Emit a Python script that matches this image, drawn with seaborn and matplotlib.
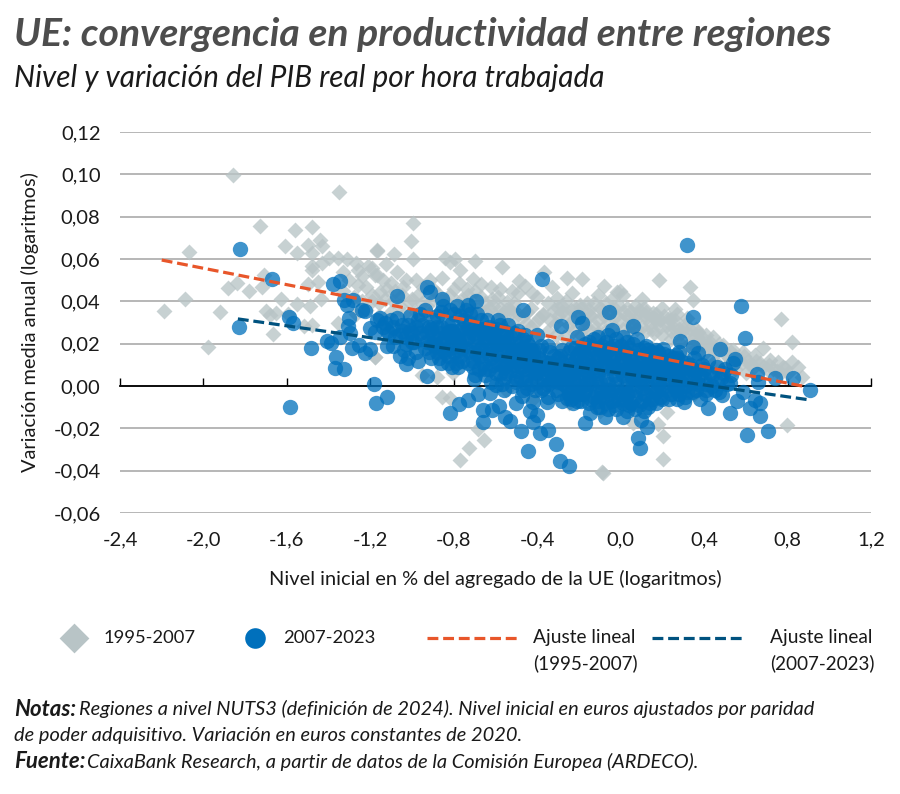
import pandas as pd
import seaborn as sns
import matplotlib.pyplot as plt

# Values (x = initial level, y = mean annual change)
gray_sparse = [
    (-1.86, .0998), (-1.35, .0917), (-1.73, .0757), (-1.56, .0738), (-1.48, .0752), (-1.44, .069), (-1.43, .066),
    (-1.61, .066), (-1.55, .063), (-1.50, .0667), (-1.48, .063), (-2.07, .0635), (-1.17, .0643), (-1.40, .0605),
    (-1.355, .0605), (-1.31, .06), (-1.43, .058), (-1.48, .0567), (-1.48, .055), (-1.27, .058), (-1.26, .055),
    (-1.21, .0567), (-1.18, .0525), (-1.33, .054), (-1.71, .0525), (-1.84, .0487), (-1.88, .0463), (-1.72, .0468),
    (-1.78, .045), (-1.50, .048), (-1.45, .049), (-1.26, .0478), (-1.33, .045), (-2.09, .041), (-1.63, .041),
    (-1.55, .0387), (-1.435, .041), (-1.49, .0378), (-1.19, .043), (-2.19, .0354), (-1.92, .035), (-1.70, .0354),
    (-1.65, .0345), (-1.68, .0335), (-1.595, .034), (-1.48, .029), (-1.52, .0283), (-1.665, .0246), (-1.98, .0184),
    (-1.355, .03), (-1.18, .0137), (-.995, .077), (-1.005, .0686), (-1.167, .0638), (-1.087, .0624), (-1.125, .0577),
    (-.995, .06), (-1.07, .054), (-1.19, .0558), (-1.167, .0525), (-.98, .05), (-1.10, .0487), (-1.153, .0444),
    (-1.043, .0468), (-.84, .0605), (-.82, .0586), (-.794, .06), (-.698, .059), (-.77, .055), (-.568, .056),
    (-.855, .051), (-.707, .0506), (-.775, .0487), (-.737, .0459), (-.698, .045), (-.367, .054), (-.487, .0497),
    (-.458, .0473), (-.492, .044), (-.425, .044), (-.329, .0468), (-.257, .051), (-.185, .0506), (-.233, .044),
    (-.08, .0473), (-.017, .0444), (-.108, .043), (-.305, .0416), (-.617, .041), (-.545, .0397), (-.30, .0369),
    (-.372, .0336), (-.147, .0336), (-.914, .05), (-.947, .0468), (-.449, .035), (-.52, .035), (-.578, .0369),
    (-.195, .0383), (-.856, -.0052), (-.82, -.0057), (-.803, .0061), (-.88, .0043), (-.95, .0052), (-1.177, .0137),
    (-.683, -.0203), (-.655, -.0255), (-.727, -.0293), (-.77, -.035), (-.09, -.0407), (-.003, .045), (.012, .043),
    (.184, .05), (.333, .047), (.348, .0407), (.26, .0364), (.03, .033), (.156, .0345), (.117, .0336), (.237, .031),
    (.77, .0317), (.442, .0232), (.82, .0208), (.683, .018), (.49, .0194), (.372, .0255), (.428, .018), (.539, .017),
    (.587, .0161), (.644, .0147), (.716, .0123), (.755, .0113), (.82, .0113), (.85, .009), (.788, .0085), (.87, .0043),
    (.223, -.0123), (.06, -.0175), (.18, -.018), (.203, -.0236), (.203, -.0345), (-.085, -.041), (.798, -.0184),
]
gray_band = [
    (-1.28, .042), (-1.22, .047), (-1.16, .039), (-1.12, .046), (-1.09, .04), (-1.05, .043), (-1.01, .039), (-.97, .043),
    (-.93, .038), (-.88, .044), (-.84, .04), (-.8, .046), (-.76, .041), (-.72, .039), (-.67, .042), (-.63, .037),
    (-.59, .042), (-.55, .036), (-.51, .039), (-.47, .033), (-.43, .037), (-.39, .032), (-.35, .039), (-.31, .03),
    (-.28, .035), (-.25, .029), (-.22, .037), (-.18, .031), (-.15, .036), (-.12, .028), (-.09, .036), (-.06, .03),
    (-.03, .037), (0.0, .031), (.03, .037), (.05, .029), (.08, .034), (.1, .028), (.12, .032), (.15, .027), (.17, .031),
    (.19, .028), (.21, .033), (.24, .026), (.26, .031), (.29, .025), (.31, .029), (.33, .024), (.36, .027), (.39, .021),
    (.41, .024), (.44, .018), (.47, .02), (.5, .015), (.53, .016), (.56, .012), (.59, .014), (.62, .01), (.65, .012),
    (.68, .009), (.71, .01), (.75, .007), (.78, .009), (.6, .006), (.55, .008), (.5, .009), (.45, .012), (.4, .015),
    (.36, .018), (.32, .019), (.28, .021), (.24, .022), (.2, .024), (.16, .025), (.12, .026), (.08, .027), (.04, .026),
    (0.01, .027), (-.03, .028), (-.07, .026), (-.11, .025), (-.15, .027), (-.19, .024), (-.23, .026), (-.27, .023),
    (-.31, .024), (-.35, .026), (-.39, .024), (-.43, .028), (-.47, .025), (-.51, .03), (-.56, .031), (-.6, .033),
    (-.65, .035), (-.7, .034), (-.75, .036), (-.8, .035), (-.86, .036), (-.92, .034), (-.98, .035), (-1.04, .034),
    (-1.1, .035), (-1.16, .033), (-1.22, .036), (-1.27, .034), (-.62, .047), (-.52, .045), (-.4, .042), (-.32, .036),
    (-.13, .039), (-.04, .041), (.07, .038), (.2, .037), (.1, .041), (-.26, .04), (-.62, .028), (-.45, .02), (-.3, .018),
    (-.15, .02), (0.0, .02), (.15, .018), (.3, .014), (.45, .008), (-.55, -.002), (-.42, -.006), (-.25, -.008),
    (-.1, -.012), (.05, -.01), (.2, -.006), (.35, -.004),
]
gray_core = [
    (-.3, .033), (-.26, .034), (-.23, .031), (-.2, .034), (-.17, .028), (-.14, .033), (-.11, .031), (-.08, .033),
    (-.05, .034), (-.02, .033), (.01, .035), (.04, .032), (.07, .031), (.09, .036), (.12, .035), (.14, .03),
    (.17, .034), (.19, .031), (.22, .029), (.25, .028), (.28, .027), (.3, .027), (.33, .027), (.35, .023), (.38, .024),
    (.4, .019), (.43, .021), (.46, .016), (.49, .017), (.52, .013), (.55, .014), (.58, .011), (.61, .012), (.64, .009),
    (.67, .011), (.7, .008), (.73, .008), (.77, .006), (.8, .006), (-.41, .03), (-.37, .034), (-.34, .031), (-.45, .03),
    (-.49, .034), (-.53, .036), (-.57, .034), (-.61, .038), (-.65, .039), (-.69, .037), (-.73, .043), (-.78, .039),
    (-.82, .043), (-.86, .04), (-.9, .041), (-.95, .039), (-1.0, .041), (-1.06, .038), (-1.13, .041), (-1.19, .04),
    (-1.24, .04), (-.28, .038), (-.24, .036), (-.19, .037), (-.16, .039), (-.1, .037), (-.07, .039), (-.01, .038),
    (.05, .035), (.11, .037), (.16, .032), (.23, .032), (.27, .034), (.32, .032), (.37, .021), (.42, .02),
    (-1.3, .05), (-1.24, .052), (-1.14, .05), (-1.08, .045), (-1.03, .05), (-.9, .046), (-.67, .048), (-.58, .046),
]
blue_sparse = [
    (-1.825, .0648), (-1.67, .0506), (-1.83, .0279), (-1.59, .0326), (-1.57, .0298), (-1.485, .018), (-1.41, .0213),
    (-1.39, .0203), (-1.345, .0232), (-1.365, .0137), (-1.37, .0085), (-1.327, .008), (-1.345, .0496), (-1.38, .048),
    (-1.283, .0407), (-1.327, .0407), (-1.31, .0383), (-1.24, .036), (-1.225, .0354), (-1.30, .0322), (-1.307, .0284),
    (-1.297, .025), (-1.2, .0274), (-1.168, .0312), (-1.177, .0255), (-1.287, .018), (-1.253, .0194), (-1.225, .0156),
    (-1.2, .0175), (-1.585, -.0099), (-.93, .0468), (-.914, .0444), (-1.07, .0426), (-.856, .041), (-.693, .04),
    (-.73, .0383), (-.785, .0378), (-.818, .036), (-.468, .036), (-.377, .0506), (-.59, .0312), (-.286, .0284),
    (-.056, .035), (-.04, .0265), (-.204, .0326), (-.185, .0298), (-1.153, .0322), (-1.03, .0104), (-.928, .0047),
    (-1.182, .0009), (-1.172, -.008), (-1.12, -.0052), (-.818, -.0128), (-.775, -.0085), (-.73, -.0066), (-.683, -.0038),
    (-.703, .0033), (-.626, -.0033), (-.6, .0005), (-.66, -.0113), (-.66, -.017), (-.617, -.0113), (-.583, -.0095),
    (-.554, -.0147), (-.53, -.0165), (-.477, -.0213), (-.5, -.008), (-.473, -.0047), (-.434, -.0118), (-.42, -.0076),
    (-.4, -.0137), (-.42, -.017), (-.386, -.0222), (-.348, -.0208), (-.352, -.0076), (-.444, -.0307), (-.31, -.0274),
    (-.29, -.0355), (-.247, -.0378), (-.257, -.0057), (-.21, -.0071), (-.17, -.0175), (-.147, -.0128), (-.075, -.0147),
    (-.113, -.0099), (.318, .0667), (.577, .0378), (.348, .0326), (.597, .0227), (.06, .0284), (.285, .0213), (.477, .0175),
    (.549, .0128), (.54, .0109), (.348, .0184), (.372, .0156), (.204, .0175), (.266, .0147), (.654, .0057), (.66, .0019),
    (.74, .0038), (.827, .0038), (.908, -.0019), (.558, -.0071), (.525, -.0128), (.62, -.0104), (.644, -.0066),
    (.668, -.008), (.668, -.0142), (.606, -.0232), (.707, -.0213), (.42, -.0104), (.304, -.0076), (.012, -.0147),
    (.097, -.016), (.125, -.0194), (.085, -.0246), (.093, -.0293), (.486, -.0043), (.587, -.0028), (.525, .0014),
]
blue_band = [
    (-1.14, .028), (-1.12, .019), (-1.1, .031), (-1.08, .023), (-1.06, .014), (-1.05, .029), (-1.03, .02), (-1.01, .033),
    (-1.0, .025), (-.98, .016), (-.97, .031), (-.95, .022), (-.94, .036), (-.92, .028), (-.91, .013), (-.89, .019),
    (-.88, .033), (-.87, .025), (-.85, .038), (-.84, .016), (-.83, .029), (-.81, .021), (-.8, .034), (-.79, .011),
    (-.78, .026), (-.76, .018), (-.75, .031), (-.74, .036), (-.73, .023), (-.71, .012), (-.7, .028), (-.69, .034),
    (-.68, .019), (-.66, .025), (-.65, .008), (-.64, .031), (-.63, .015), (-.61, .022), (-.6, .027), (-.59, .011),
    (-.58, .018), (-.56, .004), (-.55, .024), (-.54, .029), (-.53, .013), (-.51, .02), (-.5, .007), (-.49, .026),
    (-.48, .015), (-.46, .002), (-.45, .021), (-.44, .01), (-.43, .017), (-.41, .005), (-.4, .024), (-.39, .013),
    (-.37, -.001), (-.36, .008), (-.35, .019), (-.33, .003), (-.32, .014), (-.31, -.002), (-.29, .009), (-.28, .017),
    (-.27, .001), (-.25, .012), (-.24, -.003), (-.23, .006), (-.22, .018), (-.21, .023), (-.2, .002), (-.19, .011),
    (-.18, -.004), (-.17, .02), (-.16, .007), (-.15, .015), (-.14, -.006), (-.13, .022), (-.12, .003), (-.11, .012),
    (-.1, .018), (-.09, -.005), (-.08, .008), (-.07, .021), (-.06, .001), (-.05, .014), (-.04, -.007), (-.03, .019),
    (-.02, .005), (-.01, .011), (0.0, -.004), (.01, .023), (.02, .016), (.03, .002), (.04, -.009), (.05, .009),
    (.06, .02), (.07, -.002), (.08, .013), (.09, .005), (.1, -.007), (.11, .018), (.12, .002), (.13, .01),
    (.14, -.008), (.15, .016), (.16, .004), (.17, -.003), (.18, .012), (.19, .007), (.2, -.006), (.21, .015),
    (.22, .002), (.23, .009), (.24, -.004), (.25, .013), (.26, .005), (.27, -.002), (.28, .016), (.29, .008),
    (.3, .001), (.31, -.005), (.32, .011), (.33, .004), (.34, -.003), (.35, .013), (.36, .007), (.37, .001),
    (.38, -.006), (.39, .01), (.4, .004), (.41, -.002), (.42, .012), (.43, .006), (.44, 0.0), (.46, .009),
    (.47, -.003), (.48, .004), (.5, .008), (.51, .001), (.53, .005), (-.9, .024), (-.86, .02), (-.82, .026), (-.77, .014),
    (-.72, .03), (-.67, .014), (-.62, .026), (-.57, .021), (-.52, .017), (-.47, .022), (-.42, .014), (-.38, .019),
    (-.34, .011), (-.3, .013), (-.26, .006), (-.22, .012), (-.18, .016), (-.14, .01), (-.1, .002), (-.06, .017),
    (-.02, -.002), (.02, .008), (.06, .004), (.1, .011), (.14, .006), (.18, .001), (.22, .01), (.26, -.001), (.3, .009),
    (.34, .008), (.38, .005), (-.24, .018), (-.2, .015), (-.16, .001), (-.12, .016), (-.08, .014), (-.04, .009),
    (0.0, .016), (.04, .013), (.08, .007), (.12, .015), (.16, .012), (.2, .004), (.24, .007), (.28, .003), (-.2, -.004),
    (-.12, -.003), (-.04, -.002), (.04, -.003), (.12, -.004), (.2, -.001), (.28, -.004), (.02, -.006), (.1, -.001),
]
# Solid middle of the cloud, read row by row from the top of the band down
blue_core = [
    (-1.13, .03), (-1.07, .032), (-1.02, .029), (-.96, .034), (-.9, .031), (-.86, .035), (-.81, .03), (-.77, .033),
    (-.72, .034), (-.67, .031), (-.63, .028), (-.58, .029), (-.15, .021), (-.11, .023), (-.06, .024), (-.02, .022),
    (.03, .021), (.08, .022), (.12, .019), (.17, .017), (-1.11, .025), (-1.06, .024), (-1.01, .026), (-.96, .025),
    (-.91, .027), (-.86, .028), (-.81, .026), (-.76, .027), (-.71, .025), (-.66, .027), (-.61, .025), (-.56, .026),
    (-.51, .025), (-.46, .024), (-.19, .017), (-.14, .018), (-.09, .019), (-.05, .018), (0.0, .019), (.04, .018),
    (.09, .017), (.13, .017), (.18, .016), (.23, .014), (.27, .013), (-1.09, .019), (-1.04, .017), (-.99, .021),
    (-.94, .018), (-.89, .021), (-.84, .023), (-.79, .019), (-.74, .022), (-.69, .023), (-.64, .021), (-.59, .02),
    (-.54, .021), (-.49, .019), (-.44, .019), (-.39, .017), (-.34, .016), (-.29, .014), (-.25, .016), (-.21, .014),
    (-.17, .013), (-.13, .013), (-.08, .016), (-.03, .014), (.01, .014), (.05, .014), (.1, .014), (.14, .013),
    (.19, .013), (.24, .011), (.29, .012), (.33, .01), (-1.02, .013), (-.97, .012), (-.92, .016), (-.87, .013),
    (-.82, .018), (-.77, .017), (-.72, .016), (-.67, .018), (-.62, .017), (-.57, .015), (-.52, .014), (-.47, .012),
    (-.42, .011), (-.37, .012), (-.33, .009), (-.28, .011), (-.24, .01), (-.2, .009), (-.16, .01), (-.12, .009),
    (-.07, .011), (-.03, .009), (.02, .011), (.06, .01), (.11, .008), (.15, .009), (.2, .009), (.25, .008), (.3, .006),
    (.35, .006), (.4, .008), (.44, .005), (.49, .006), (-.86, .011), (-.81, .009), (-.76, .012), (-.71, .009),
    (-.66, .011), (-.61, .01), (-.56, .009), (-.51, .01), (-.46, .008), (-.41, .008), (-.36, .005), (-.31, .006),
    (-.27, .005), (-.23, .003), (-.19, .006), (-.15, .004), (-.11, .006), (-.07, .004), (-.03, .005), (.01, .005),
    (.05, .005), (.09, .003), (.13, .005), (.17, .004), (.21, .006), (.26, .003), (.31, .003), (.36, .002), (.41, .001),
    (.46, .002), (-.7, .005), (-.65, .005), (-.6, .006), (-.55, .006), (-.5, .004), (-.45, .005), (-.4, .002),
    (-.35, .001), (-.3, .002), (-.26, .0), (-.22, .001), (-.18, .0), (-.14, .001), (-.1, -.001), (-.06, -.002),
    (-.02, .001), (.02, .0), (.06, .001), (.1, .002), (.14, -.001), (.18, -.002), (.22, -.002), (.26, .0), (.31, .0),
    (.36, -.002), (.41, -.004), (.45, -.002), (-.62, .002), (-.57, .001), (-.52, .0), (-.47, -.002), (-.43, .001),
    (-.38, -.002), (-.3, -.004), (-.25, -.004), (-.21, -.003), (-.17, -.002), (-.13, -.005), (-.09, -.003), (-.05, -.004),
    (-.01, -.006), (.03, -.004), (.07, -.005), (.11, -.004), (.15, -.006), (.19, -.005), (.23, -.006), (.27, -.006),
    (.32, -.003), (-.35, -.005), (-.28, -.007), (-.23, -.008), (-.19, -.007), (-.15, -.008), (-.11, -.007), (-.07, -.008),
    (-.03, -.009), (.01, -.008), (.05, -.008), (.09, -.009), (.13, -.01), (.17, -.008), (-.24, -.006), (-.02, -.011),
    (.03, -.012), (.07, -.011), (.11, -.012), (-.06, -.011), (-.1, -.01), (.0, .007), (.04, .007), (.08, .009), (.12, .007),
    (-.04, .012), (-.09, .009), (-.13, .007), (-.17, .006), (.16, .007), (.2, .011), (.24, .005), (.28, .007),
]
# Second pass over the left half of the band, where the reference closes up
blue_left = [
    (-1.12, .026), (-1.09, .028), (-1.05, .026), (-1.03, .023), (-1.0, .021), (-.98, .028), (-.95, .029), (-.93, .025),
    (-.9, .02), (-.88, .028), (-.85, .021), (-.83, .025), (-.8, .024), (-.78, .022), (-.75, .025), (-.73, .028),
    (-.7, .021), (-.68, .027), (-.65, .022), (-.63, .024), (-.6, .021), (-.57, .024), (-.55, .019), (-.53, .023),
    (-.5, .017), (-.47, .018), (-.45, .015), (-.42, .017), (-.93, .021), (-.88, .016), (-.85, .017), (-.83, .014),
    (-.8, .016), (-.77, .02), (-.74, .018), (-.7, .016), (-.68, .014), (-.65, .017), (-.62, .013), (-.6, .015),
    (-.57, .012), (-.54, .011), (-.51, .012), (-.48, .009), (-.45, .012), (-.42, .007), (-.39, .009), (-.36, .011),
    (-.34, .007), (-.31, .01), (-.28, .007), (-.25, .008), (-.22, .007), (-.4, .006), (-.37, .004), (-.34, .002),
    (-.31, .003), (-.28, .002), (-.25, .003), (-.53, .007), (-.5, .002), (-.48, .004), (-.58, .006), (-.63, .008),
    (-.68, .008), (-.73, .011), (-.78, .009), (-.83, .011), (-.45, -.001), (-.41, -.002), (-.56, -.002), (-.44, .014),
]

gray_points = gray_sparse + gray_band + gray_core
blue_points = blue_sparse + blue_band + blue_core + blue_left

fit_early_x = [-2.2, .87]
fit_early_y = [.0595, .0]
fit_late_x = [-1.835, .908]
fit_late_y = [.0317, -.0066]

x_ticks = [-2.4, -2.0, -1.6, -1.2, -.8, -.4, 0, .4, .8, 1.2]
x_tick_labels = ['-2,4', '-2,0', '-1,6', '-1,2', '-0,8', '-0,4', '0,0', '0,4', '0,8', '1,2']
y_ticks = [-.06, -.04, -.02, 0, .02, .04, .06, .08, .10, .12]
y_tick_labels = ['-0,06', '-0,04', '-0,02', '0,00', '0,02', '0,04', '0,06', '0,08', '0,10', '0,12']

GRAY = '#B8C4C6'
BLUE = '#0070BC'
ORANGE = '#E8562A'
NAVY = '#00527F'
TEXT = '#1a1a1a'

sns.set_theme(style='white')
plt.rcParams['font.family'] = ['Lato', 'DejaVu Sans']

gray_df = pd.DataFrame(gray_points, columns=['nivel', 'variacion'])
blue_df = pd.DataFrame(blue_points, columns=['nivel', 'variacion'])

fig = plt.figure(figsize=(9, 7.94), dpi=100)
ax = fig.add_axes([120 / 900, (794 - 513) / 794, 751 / 900, 381 / 794])

sns.scatterplot(data=gray_df, x='nivel', y='variacion', ax=ax, marker='D', s=66, color=GRAY, alpha=.78, linewidth=0)
sns.scatterplot(data=blue_df, x='nivel', y='variacion', ax=ax, marker='o', s=122, color=BLUE, alpha=.75, linewidth=0)
sns.lineplot(x=fit_early_x, y=fit_early_y, ax=ax, color=ORANGE, lw=2.3, dashes=(3.4, 1.5), zorder=4)
sns.lineplot(x=fit_late_x, y=fit_late_y, ax=ax, color=NAVY, lw=2.3, dashes=(3.4, 1.5), zorder=4)

ax.set_xlim(-2.4, 1.2)
ax.set_ylim(-.06, .12)
ax.set_xticks(x_ticks, x_tick_labels)
ax.set_yticks(y_ticks, y_tick_labels)
ax.set_axisbelow(True)
ax.grid(axis='y', color='#A3A3A3', lw=1.1)
ax.grid(axis='x', visible=False)

for side in ['top', 'left', 'right']:
    ax.spines[side].set_visible(False)
ax.spines['bottom'].set_position(('data', 0))
ax.spines['bottom'].set_color('black')
ax.spines['bottom'].set_linewidth(1.3)
ax.spines['bottom'].set_zorder(.6)
ax.tick_params(axis='x', bottom=True, direction='in', length=5.5, width=1, color='black', pad=105,
               labelsize=14.5, labelcolor=TEXT)
ax.tick_params(axis='y', length=0, pad=14, labelsize=14.5, labelcolor=TEXT)

ax.set_xlabel('Nivel inicial en % del agregado de la UE (logaritmos)', fontsize=14.4, color=TEXT)
ax.set_ylabel('Variación media anual (logaritmos)', fontsize=14.4, color=TEXT)
ax.xaxis.set_label_coords(.4993, -.173)
ax.yaxis.set_label_coords(-.12, .5)
ax.xaxis.label.set_verticalalignment('center')
ax.yaxis.label.set_verticalalignment('center')

# Everything outside the plot is placed in figure pixels
page = fig.add_axes([0, 0, 1, 1], facecolor='none')
page.set_xlim(0, 900)
page.set_ylim(794, 0)
page.axis('off')

page.text(14, 35, 'UE: convergencia en productividad entre regiones', fontsize=28.2, fontweight='bold',
          fontstyle='italic', color='#4D4D4D', va='center')
page.text(14, 78, 'Nivel y variación del PIB real por hora trabajada', fontsize=21.4, fontstyle='italic',
          color=TEXT, va='center')

# Legend row
page.scatter([74], [638], marker='D', s=230, color=GRAY, linewidth=0)
page.text(104, 638, '1995-2007', fontsize=13.2, va='center', color=TEXT)
page.scatter([255], [638], marker='o', s=220, color=BLUE, linewidth=0)
page.text(283, 638, '2007-2023', fontsize=13.2, va='center', color=TEXT)
page.plot([427, 518], [638, 638], color=ORANGE, lw=2.3, dashes=(3.4, 1.5))
page.text(533, 638, 'Ajuste lineal', fontsize=13.8, va='center', color=TEXT)
page.text(533, 663, '(1995-2007)', fontsize=13.6, va='center', color=TEXT)
page.plot([652, 742], [638, 638], color=NAVY, lw=2.3, dashes=(3.4, 1.5))
page.text(770, 638, 'Ajuste lineal', fontsize=13.8, va='center', color=TEXT)
page.text(770, 663, '(2007-2023)', fontsize=13.6, va='center', color=TEXT)

# Footnotes
note_style = dict(fontstyle='italic', va='center', color=TEXT)
page.text(14, 709, 'Notas:', fontweight='bold', fontsize=16, **note_style)
page.text(79, 709, 'Regiones a nivel NUTS3 (definición de 2024). Nivel inicial en euros ajustados por paridad',
          fontsize=14.4, **note_style)
page.text(14, 736, 'de poder adquisitivo. Variación en euros constantes de 2020.', fontsize=14.4, **note_style)
page.text(14, 762, 'Fuente:', fontweight='bold', fontsize=16, **note_style)
page.text(87, 762, 'CaixaBank Research, a partir de datos de la Comisión Europea (ARDECO).', fontsize=14.4, **note_style)

fig.savefig('out.png', dpi=100)
plt.close(fig)
